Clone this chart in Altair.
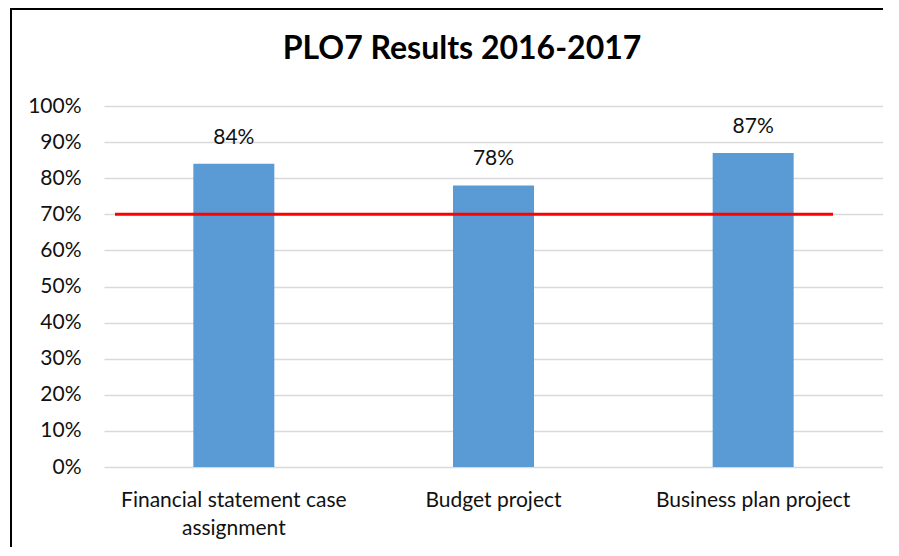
import altair as alt
import pandas as pd

categories = ["Financial statement case assignment", "Budget project", "Business plan project"]
values = [0.84, 0.78, 0.87]
labels = ["84%", "78%", "87%"]
target = 0.70
y_ticks = [0, 0.1, 0.2, 0.3, 0.4, 0.5, 0.6, 0.7, 0.8, 0.9, 1.0]
title_text = "PLO7 Results 2016-2017"

df = pd.DataFrame({"category": categories, "value": values, "label": labels})
FONT = "Lato"
FS = 21

x_enc = alt.X(
    "category:N", sort=categories, title=None,
    scale=alt.Scale(paddingInner=0, paddingOuter=0),
    axis=alt.Axis(
        labelAngle=0, ticks=False, domain=False, labelFontSize=FS, labelFont=FONT,
        labelColor="#111111", labelPadding=22, labelLineHeight=28, labelLimit=400,
        labelOverlap=False,
        labelExpr="datum.label == 'Financial statement case assignment' ? ['Financial statement case', 'assignment'] : datum.label",
    ),
)
y_axis = alt.Axis(
    values=y_ticks, format=".0%", ticks=False, domain=False, labelFontSize=FS,
    labelFont=FONT, labelColor="#111111", labelPadding=23, labelOverlap=False,
    gridColor="#D9D9D9", gridWidth=1.5,
)
y_scale = alt.Scale(domain=[0, 1], nice=False)
y_enc = alt.Y("value:Q", title=None, scale=y_scale, axis=y_axis)

base = alt.Chart(df)
bars = base.mark_bar(size=81, color="#5B9BD5").encode(x=x_enc, y=y_enc)
text = base.mark_text(dy=-26, baseline="middle", fontSize=FS, font=FONT, color="#111111").encode(
    x=x_enc, y=y_enc, text="label:N"
)
tgt = alt.Chart(pd.DataFrame({"t": [target]})).mark_rule(color="#FF0000", strokeWidth=3).encode(
    y=alt.Y("t:Q", title=None, scale=y_scale, axis=y_axis), x=alt.value(11), x2=alt.value(729)
)
dummy = pd.DataFrame({"a": [0]})
title = alt.Chart(pd.DataFrame({"t": [title_text]})).mark_text(
    fontSize=32, font=FONT, fontWeight="bold", color="black", baseline="alphabetic", align="center"
).encode(x=alt.value(358), y=alt.value(-47), text="t:N")
border_top = alt.Chart(dummy).mark_rule(color="black", strokeWidth=2).encode(
    x=alt.value(-93), x2=alt.value(800), y=alt.value(-97)
)
border_left = alt.Chart(dummy).mark_rule(color="black", strokeWidth=2).encode(
    x=alt.value(-93), y=alt.value(-98), y2=alt.value(470)
)

chart = alt.layer(bars, text, tgt, title, border_top, border_left).properties(
    width=779, height=361,
    autosize=alt.AutoSizeParams(type="none"),
    padding={"left": 96, "top": 98, "right": 0, "bottom": 80},
    background="white",
).configure_view(stroke=None)

chart.save("out.html", embed_options={"renderer": "svg", "actions": False})
